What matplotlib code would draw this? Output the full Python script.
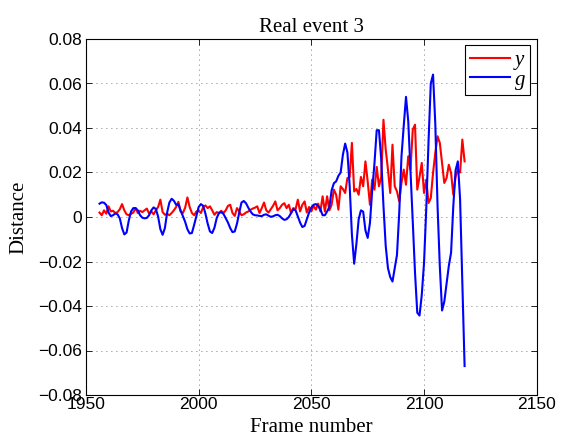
import numpy as np
import matplotlib
matplotlib.use("Agg")
import matplotlib.pyplot as plt
from matplotlib.ticker import FuncFormatter

# frame numbers 1956 .. 2118
first_frame = 1956
last_frame = 2118

# y: red (jagged), one value per frame
dist_y = [
    0.0020, 0.0008, 0.0030, 0.0015, 0.0048, 0.0025, 0.0028, 0.0018, 0.0022, 0.0035,
    0.0058, 0.0030, 0.0012, 0.0008, 0.0014, 0.0020, 0.0040, 0.0018, 0.0028, 0.0022,
    0.0030, 0.0038, 0.0015, 0.0025, 0.0012, 0.0030, 0.0045, 0.0078, 0.0022, 0.0010,
    0.0014, 0.0008, 0.0018, 0.0030, 0.0045, 0.0068, 0.0025, 0.0018, 0.0042, 0.0088,
    0.0045, 0.0018, 0.0008, 0.0025, 0.0028, 0.0018, 0.0045, 0.0052, 0.0040, 0.0048,
    0.0030, 0.0010, 0.0022, 0.0018, 0.0028, 0.0018, 0.0030, 0.0050, 0.0055, 0.0018,
    0.0005, 0.0040, 0.0025, 0.0008, 0.0012, 0.0020, 0.0025, 0.0032, 0.0038, 0.0042,
    0.0048, 0.0018, 0.0040, 0.0065, 0.0030, 0.0020, 0.0035, 0.0050, 0.0070, 0.0030,
    0.0040, 0.0055, 0.0062, 0.0040, 0.0055, 0.0018, 0.0040, 0.0035, 0.0078, 0.0025,
    0.0055, 0.0070, 0.0020, 0.0045, 0.0025, 0.0050, 0.0033, 0.0060, 0.0025, 0.0093,
    0.0025, 0.0093, 0.0030, 0.0055, 0.0123, 0.0100, 0.0033, 0.0138, 0.0126, 0.0108,
    0.0175, 0.0180, 0.0333, 0.0115, 0.0126, 0.0100, 0.0180, 0.0138, 0.0250, 0.0160,
    0.0055, 0.0168, 0.0123, 0.0225, 0.0138, 0.0180, 0.0437, 0.0303, 0.0213, 0.0108,
    0.0325, 0.0138, 0.0115, 0.0070, 0.0153, 0.0213, 0.0145, 0.0273, 0.0213, 0.0393,
    0.0415, 0.0123, 0.0180, 0.0243, 0.0108, 0.0168, 0.0063, 0.0085, 0.0198, 0.0288,
    0.0363, 0.0333, 0.0243, 0.0153, 0.0175, 0.0235, 0.0198, 0.0100, 0.0180, 0.0213,
    0.0200, 0.0348, 0.0250,
]

# g: blue (smooth), one value per frame
dist_g = [
    0.0060, 0.0066, 0.0064, 0.0054, 0.0020, 0.0004, 0.0008, 0.0016, 0.0012, -0.0006,
    -0.0050, -0.0078, -0.0070, -0.0015, 0.0025, 0.0040, 0.0040, 0.0030, 0.0008, -0.0003,
    -0.0006, -0.0004, 0.0008, 0.0030, 0.0043, 0.0036, 0.0002, -0.0055, -0.0080, -0.0050,
    0.0020, 0.0065, 0.0082, 0.0073, 0.0055, 0.0057, 0.0028, 0.0004, -0.0022, -0.0055,
    -0.0074, -0.0072, -0.0035, 0.0005, 0.0045, 0.0058, 0.0050, 0.0015, -0.0030, -0.0065,
    -0.0072, -0.0048, -0.0005, 0.0018, 0.0022, 0.0014, -0.0005, -0.0025, -0.0050, -0.0068,
    -0.0065, -0.0030, 0.0020, 0.0065, 0.0072, 0.0062, 0.0042, 0.0025, 0.0012, 0.0008,
    0.0007, 0.0005, 0.0004, 0.0010, 0.0012, 0.0006, 0.0001, 0.0003, 0.0008, 0.0010,
    0.0004, -0.0006, -0.0013, -0.0010, 0.0000, 0.0018, 0.0035, 0.0030, 0.0002, -0.0025,
    -0.0045, -0.0040, -0.0010, 0.0020, 0.0042, 0.0055, 0.0058, 0.0050, 0.0035, 0.0008,
    0.0008, 0.0025, 0.0045, 0.0120, 0.0152, 0.0160, 0.0185, 0.0200, 0.0280, 0.0330,
    0.0290, 0.0140, -0.0080, -0.0210, -0.0120, -0.0010, 0.0030, 0.0024, -0.0060, -0.0094,
    -0.0027, 0.0120, 0.0240, 0.0390, 0.0390, 0.0260, 0.0050, -0.0130, -0.0230, -0.0270,
    -0.0290, -0.0230, -0.0170, 0.0020, 0.0273, 0.0410, 0.0540, 0.0430, 0.0210, -0.0020,
    -0.0250, -0.0430, -0.0443, -0.0350, -0.0207, 0.0040, 0.0340, 0.0600, 0.0640, 0.0420,
    0.0050, -0.0220, -0.0420, -0.0380, -0.0300, -0.0220, -0.0160, 0.0050, 0.0210, 0.0250,
    0.0080, -0.0300, -0.0670,
]

xticks = [1950, 2000, 2050, 2100, 2150]
yticks = [-0.08, -0.06, -0.04, -0.02, 0, 0.02, 0.04, 0.06, 0.08]

serif = "Liberation Serif"
sans = "Liberation Sans"

frames = np.arange(first_frame, last_frame + 1)

fig = plt.figure(figsize=(5.61, 4.41), dpi=100)
ax = fig.add_axes([86 / 561, 1 - 395 / 441, (536.7 - 86) / 561, (395 - 39) / 441])

ax.plot(frames, dist_y, color=(1, 0, 0), lw=1.5, label="y")
ax.plot(frames, dist_g, color=(0, 0, 1), lw=1.5, label="g")

ax.set_xlim(1950, 2150)
ax.set_ylim(-0.08, 0.08)
ax.set_xticks(xticks)
ax.set_yticks(yticks)
ax.yaxis.set_major_formatter(FuncFormatter(lambda v, p: f"{v:g}".replace("-", "\u2212")))

ax.grid(True, color="0.3", linestyle=(0, (1, 5)), linewidth=0.6)
ax.tick_params(direction="in", top=True, right=True, length=4, width=0.6,
               labelsize=12.5)
ax.tick_params(axis="x", pad=1.5)
ax.tick_params(axis="y", pad=3)
for lab in ax.get_xticklabels() + ax.get_yticklabels():
    lab.set_fontfamily(sans)
for s in ax.spines.values():
    s.set_linewidth(0.8)

ax.set_title("Real event 3", fontsize=15, family=serif, pad=5)
ax.set_xlabel("Frame number", fontsize=15, family=serif, labelpad=4)
ax.set_ylabel("Distance", fontsize=15, family=serif, labelpad=7)

leg = ax.legend(loc="upper right", prop={"family": serif, "style": "italic", "size": 15},
                fancybox=False, framealpha=1, edgecolor="black",
                borderaxespad=0.3, borderpad=0.25, handlelength=1.9,
                handletextpad=0.25, labelspacing=0.0)
leg.get_frame().set_linewidth(0.8)

fig.savefig("out.png", dpi=100)
